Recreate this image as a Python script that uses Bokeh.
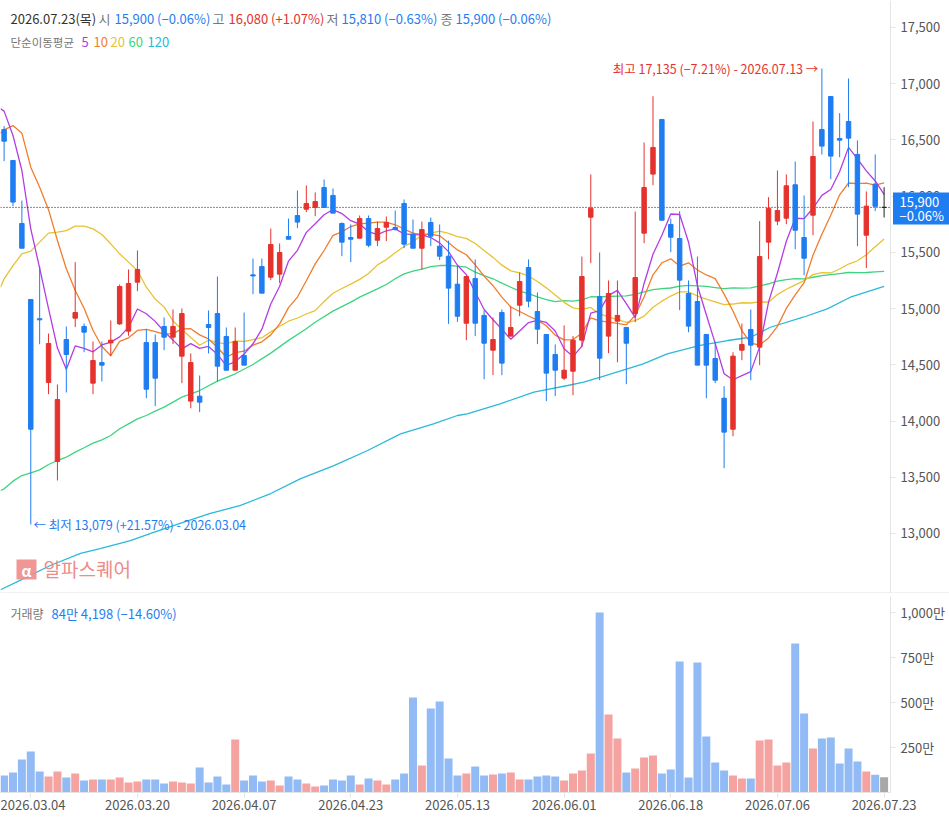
import numpy as np
from bokeh.plotting import figure
from bokeh.layouts import column
from bokeh.models import Range1d, FixedTicker, NumeralTickFormatter, Span, ColumnDataSource
from bokeh.core.properties import value
from bokeh.embed import file_html
from bokeh.resources import INLINE

# ---------------- data ----------------
open_ = [16593, 16317, 15757, 15081, 14910, 14343, 13640, 14725, 14915, 14841,
         14337, 14520, 14695, 14864, 14799, 15235, 14698, 14698, 14841, 14746,
         14577, 14177, 14221, 14858, 14956, 14752, 14452, 14583, 15300, 15374,
         15279, 15306, 15641, 15828, 15884, 15899, 16077, 16006, 15757, 15632,
         15626, 15801, 15608, 15724, 15721, 15935, 15662, 15537, 15766, 15555,
         15466, 15217, 14870, 15268, 14939, 14630, 14965, 14755, 15030, 15365,
         14974, 14770, 14592, 14381, 14443, 14719, 15813, 15107, 14755, 14888,
         14832, 14956, 15671, 16196, 16682, 15748, 15623, 15134, 15063, 14770,
         14556, 14203, 13927, 14630, 14814, 14657, 15591, 15778, 15804, 16101,
         15632, 15831, 16593, 16886, 16513, 16664, 16371, 15653, 16107, 15900]
high = [16622, 16317, 15961, 15081, 15377, 14778, 14325, 14841, 15413, 14867,
        14707, 14707, 14894, 15214, 15348, 15517, 14817, 14770, 14921, 14992,
        15001, 14601, 14405, 14983, 15285, 14832, 14832, 14965, 15445, 15445,
        15712, 15579, 15801, 16050, 16095, 16033, 16148, 16068, 15766, 15748,
        15828, 15828, 15774, 15819, 15872, 15970, 15792, 15774, 15810, 15748,
        15605, 15380, 15285, 15437, 14983, 14921, 14992, 15019, 15321, 15437,
        15143, 14770, 14681, 14850, 14755, 15463, 16193, 15499, 15250, 15250,
        14832, 15863, 16477, 16889, 16682, 15800, 15866, 15250, 15463, 14770,
        14707, 14310, 14612, 14867, 14992, 15778, 15991, 16228, 16193, 16308,
        16006, 16664, 17135, 16886, 16738, 17046, 16495, 16042, 16371, 16080]
low = [16311, 15911, 15537, 13079, 14683, 14239, 13471, 14254, 14835, 14612,
       14239, 14352, 14577, 14855, 14758, 15155, 14203, 14132, 14630, 14684,
       14337, 14114, 14079, 14601, 14352, 14452, 14452, 14497, 15128, 15137,
       15253, 15226, 15617, 15715, 15858, 15822, 15899, 15849, 15466, 15413,
       15626, 15546, 15555, 15600, 15694, 15537, 15537, 15348, 15555, 15431,
       14864, 14882, 14719, 14755, 14372, 14408, 14408, 14755, 14932, 15012,
       14684, 14176, 14221, 14363, 14230, 14657, 15404, 14363, 14603, 14523,
       14328, 14879, 15582, 16098, 15786, 15502, 14986, 14790, 14497, 14203,
       14337, 13581, 13865, 14541, 14363, 14497, 15439, 15742, 15751, 15528,
       15297, 15653, 16370, 16151, 16347, 16080, 15555, 15360, 15867, 15810]
close = [16489, 15947, 15537, 13927, 14900, 14689, 14191, 14592, 14965, 14790,
         14538, 14497, 14719, 15196, 15223, 15348, 14283, 14381, 14746, 14841,
         14956, 14520, 14168, 14832, 14488, 14452, 14707, 14497, 15290, 15137,
         15570, 15499, 15617, 15769, 15935, 15952, 15899, 15849, 15591, 15617,
         15801, 15564, 15712, 15766, 15703, 15573, 15537, 15703, 15644, 15466,
         15182, 14932, 15285, 14870, 14692, 14725, 14515, 14832, 15241, 15066,
         14817, 14426, 14452, 14452, 14719, 15285, 15893, 14559, 15134, 14939,
         14692, 15276, 16077, 16433, 15786, 15635, 15253, 14844, 14497, 14497,
         14363, 13901, 14577, 14681, 14675, 15463, 15893, 15872, 16092, 15697,
         15448, 16353, 16445, 16356, 16498, 16516, 15840, 15911, 15910, 15900]
volume_man = [94, 111, 183, 228, 117, 89, 117, 83, 106, 67,
              72, 72, 72, 83, 56, 61, 72, 72, 50, 61,
              56, 50, 139, 56, 89, 44, 294, 67, 94, 61,
              67, 39, 89, 72, 50, 33, 39, 72, 67, 94,
              44, 78, 67, 44, 72, 106, 528, 150, 467, 506,
              189, 94, 106, 144, 94, 100, 106, 111, 72, 72,
              89, 94, 89, 67, 106, 122, 217, 1000, 433, 300,
              111, 133, 194, 206, 106, 128, 728, 83, 722, 311,
              167, 122, 94, 78, 78, 289, 294, 150, 167, 828,
              439, 244, 300, 306, 161, 244, 172, 117, 99, 84.4198]

# moving-average values before enough history exists
ma5_head_idx = [-0.4, 0, 1, 2, 3]
ma5_head_val = [16777, 16756, 16540, 16228, 15709]
ma10_head_idx = [-0.4, 0, 1, 2, 3, 4, 5, 6, 7, 8]
ma10_head_val = [16560, 16590, 16628, 16560, 16258, 16080, 15880, 15606, 15354, 15161]
ma20_head_idx = [-0.4] + list(range(0, 19))
ma20_head_val = [15190, 15265, 15383, 15487, 15511, 15591, 15671, 15680, 15694, 15733,
                 15733, 15709, 15659, 15576, 15487, 15413, 15339, 15190, 15085, 15013]
ma60_head_idx = [-0.4, 0, 1, 2, 3, 4, 5, 6, 7, 8, 9, 10, 11, 12, 13, 14, 15, 16, 17, 18,
                 20, 22, 24, 26, 28, 30, 32, 34, 35, 37, 39, 40, 42, 43, 44, 45, 46, 47,
                 48, 49, 50, 51, 52, 53, 54, 55, 56, 57, 58]
ma60_head_val = [13382, 13397, 13465, 13515, 13539, 13566, 13613, 13649, 13678, 13723,
                 13762, 13803, 13833, 13871, 13931, 13975, 14019, 14049, 14088, 14123,
                 14212, 14271, 14355, 14420, 14503, 14604, 14717, 14820, 14879, 14977,
                 15057, 15102, 15176, 15214, 15265, 15309, 15333, 15351, 15374, 15383,
                 15383, 15377, 15368, 15324, 15294, 15265, 15226, 15190, 15155]
ma120_idx = [-0.4, 1.8, 5.2, 8.6, 10.8, 14.2, 16.5, 19.8, 23.2, 26.6, 30.0, 33.3,
             37.1, 40.9, 44.6, 48.3, 51.0, 52.1, 55.8, 59.6, 63.4, 65.2, 67.1, 70.1,
             71.9, 74.6, 78.3, 81.4, 84.0, 86.2, 89.9, 92.6, 95.2, 99.0]
ma120_val = [12499, 12582, 12715, 12822, 12866, 12937, 13000, 13089, 13178, 13249,
             13355, 13486, 13604, 13738, 13886, 13975, 14049, 14064, 14153, 14257,
             14316, 14346, 14390, 14464, 14509, 14597, 14672, 14716, 14745, 14834,
             14923, 14998, 15101, 15197]

tick_dates = ["2026.03.04", "2026.03.20", "2026.04.07", "2026.04.23", "2026.05.13",
              "2026.06.01", "2026.06.18", "2026.07.06", "2026.07.23"]
price_ticks = [13000, 13500, 14000, 14500, 15000, 15500, 16000, 16500, 17000, 17500]
vol_ticks = [250, 500, 750, 1000]
vol_tick_labels = ["250만", "500만", "750만", "1,000만"]

last_price = 15900
last_label = ["15,900", "−0.06%"]
high_mark = (92, 17135, "최고 17,135 (−7.21%) - 2026.07.13 →")
low_mark = (3, 13079, "← 최저 13,079 (+21.57%) - 2026.03.04")

# ---------------- styling ----------------
FONT = "Noto Sans CJK KR"
RED = "#E5322D"
BLUE = "#1F7DF2"
FLAT = "#222222"
VRED = "#F4A3A1"
VBLUE = "#92BBF5"
VGRAY = "#A8A8A8"
C5, C10, C20, C60, C120 = "#B43CE4", "#F07D2D", "#E8C232", "#3DD47F", "#2AB9D8"
AX = "#E4E4E4"
LBL = "#555555"

FW = 890            # plotting area width (px)
TW = 949            # total width
PH = 593            # price frame height
XR0, XR1 = -0.405, 99.72
YT = 17740.1
PPX = 8.894         # won per pixel
YB = YT - PH * PPX
VH = 196
VTOP = 1089.0


def px2x(px):
    return XR0 + px * (XR1 - XR0) / FW


def py2y(py):
    return YT - py * PPX


def py2v(py):
    return (792 - py) * VTOP / VH


o = np.array(open_, float)
h = np.array(high, float)
l = np.array(low, float)
c = np.array(close, float)
N = len(c)
idx = np.arange(N)
up = c > o
dn = c < o
ccol = np.where(up, RED, np.where(dn, BLUE, FLAT))
vcol = np.where(up, VRED, np.where(dn, VBLUE, VGRAY))


def rolling(n):
    return [float(np.mean(c[i - n + 1:i + 1])) for i in range(n - 1, N)]


def style_axis(ax):
    ax.axis_line_color = AX
    ax.major_tick_line_color = AX
    ax.major_tick_out = 5
    ax.major_tick_in = 0
    ax.minor_tick_line_color = None
    ax.major_label_text_font = FONT
    ax.major_label_text_font_size = "13px"
    ax.major_label_text_color = LBL
    ax.major_label_standoff = 5


# ---------------- price panel (frame spans full width, axis fixed at px 890) ----------------
p = figure(frame_width=TW, frame_height=PH, x_range=Range1d(XR0, px2x(TW)), y_range=Range1d(YB, YT),
           y_axis_location="right", output_backend="svg", toolbar_location=None,
           min_border_left=0, min_border_right=0, min_border_top=0, min_border_bottom=0,
           background_fill_color="white", border_fill_color="white")
p.xaxis.visible = False
p.grid.visible = False
p.outline_line_color = None
p.yaxis.ticker = FixedTicker(ticks=price_ticks)
p.yaxis.formatter = NumeralTickFormatter(format="0,0")
p.yaxis.fixed_location = px2x(FW)
style_axis(p.yaxis[0])
p.yaxis[0].level = "underlay"

# moving averages
ma_specs = [
    (list(ma120_idx), list(ma120_val), C120),
    (ma60_head_idx + list(range(59, N)), ma60_head_val + rolling(60), C60),
    (ma20_head_idx + list(range(19, N)), ma20_head_val + rolling(20), C20),
    (ma10_head_idx + list(range(9, N)), ma10_head_val + rolling(10), C10),
    (ma5_head_idx + list(range(4, N)), ma5_head_val + rolling(5), C5),
]
for xs, ys, col in ma_specs:
    p.line(xs, ys, line_color=col, line_width=1.3)

p.segment(x0=[XR0], y0=[last_price], x1=[px2x(FW)], y1=[last_price], line_color="#111111",
          line_dash="1 2", line_width=1)
p.add_layout(Span(location=py2y(592.5), dimension="width", line_color=AX, line_width=1))

src = ColumnDataSource(dict(x=idx, h=h, l=l, top=np.maximum(o, c), bot=np.minimum(o, c), col=ccol))
p.segment("x", "h", "x", "l", source=src, line_color="col", line_width=1)
p.vbar(x="x", width=0.5, top="top", bottom="bot", source=src,
       fill_color="col", line_color="col", line_width=1)

# header
hx = [10, 98, 114, 212, 228, 326, 341, 440, 455]
ht = ["2026.07.23(목)", "시", "15,900 (−0.06%)", "고", "16,080 (+1.07%)", "저",
      "15,810 (−0.63%)", "종", "15,900 (−0.06%)"]
hc = ["#333333", "#777777", BLUE, "#777777", RED, "#777777", BLUE, "#777777", BLUE]
p.text([px2x(v) for v in hx], [py2y(18)] * len(hx), text=ht, text_color=hc,
       text_font=value(FONT), text_font_size="13px", text_baseline="middle", text_align="left")
p.text([px2x(10)], [py2y(41)], text=["단순이동평균"], text_color="#777777",
       text_font=value(FONT), text_font_size="11.5px", text_baseline="middle", text_align="left")
mx = [81, 93, 110, 128, 147]
mt = ["5", "10", "20", "60", "120"]
mc = [C5, C10, C20, C60, C120]
p.text([px2x(v) for v in mx], [py2y(41)] * len(mx), text=mt, text_color=mc,
       text_font=value(FONT), text_font_size="13px", text_baseline="middle", text_align="left")

# high / low marks
p.text([high_mark[0] - 0.4], [high_mark[1]], text=[high_mark[2]], text_color=RED,
       text_font=value(FONT), text_font_size="12.5px", text_baseline="middle", text_align="right")
p.text([low_mark[0] + 0.3], [low_mark[1]], text=[low_mark[2]], text_color=BLUE,
       text_font=value(FONT), text_font_size="12.5px", text_baseline="middle", text_align="left")

# watermark
p.scatter([px2x(26)], [py2y(569)], marker="square", size=20, fill_color="#EE8C8A",
          line_color=None, fill_alpha=0.9)
p.text([px2x(26)], [py2y(570)], text=["α"], text_color="white", text_font=value(FONT),
       text_font_size="15px", text_baseline="middle", text_align="center", text_font_style="bold")
p.text([px2x(43)], [py2y(568)], text=["알파스퀘어"], text_color="#EE8C8A", text_font=value(FONT),
       text_font_size="19px", text_baseline="middle", text_align="left")

# last price box
p.quad(left=[px2x(892.5)], right=[px2x(TW)], top=[py2y(192)], bottom=[py2y(224)],
       fill_color=BLUE, line_color=None, level="overlay")
p.text([px2x(899), px2x(899)], [py2y(201.5), py2y(215)], text=last_label, text_color="white",
       text_font=value(FONT), text_font_size="13px", text_baseline="middle", text_align="left",
       level="overlay")

# ---------------- volume panel ----------------
pv = figure(frame_width=FW, frame_height=VH, x_range=Range1d(XR0, XR1), y_range=Range1d(0, VTOP),
            y_axis_location="right", output_backend="svg", toolbar_location=None,
            min_border_left=0, min_border_right=TW - FW, min_border_top=3, min_border_bottom=29,
            background_fill_color="white", border_fill_color="white")
pv.grid.visible = False
pv.outline_line_color = None
pv.vbar(x=idx, width=0.9, top=volume_man, bottom=0, fill_color=vcol, line_color=None)
pv.yaxis.ticker = FixedTicker(ticks=vol_ticks)
pv.yaxis.major_label_overrides = {t: s for t, s in zip(vol_ticks, vol_tick_labels)}
tick_pos = [3 + 12 * k for k in range(len(tick_dates))]
pv.xaxis.ticker = FixedTicker(ticks=tick_pos)
pv.xaxis.major_label_overrides = {t: s for t, s in zip(tick_pos, tick_dates)}
style_axis(pv.yaxis[0])
style_axis(pv.xaxis[0])
pv.xaxis[0].major_label_standoff = 2

pv.text([px2x(10)], [py2v(613)], text=["거래량"], text_color="#777777", text_font=value(FONT),
        text_font_size="12px", text_baseline="middle", text_align="left")
pv.text([px2x(51)], [py2v(613)], text=["84만 4,198 (−14.60%)"], text_color=BLUE,
        text_font=value(FONT), text_font_size="13px", text_baseline="middle", text_align="left")

layout = column(p, pv, spacing=0)
open("out.html", "w").write(file_html(layout, INLINE))
